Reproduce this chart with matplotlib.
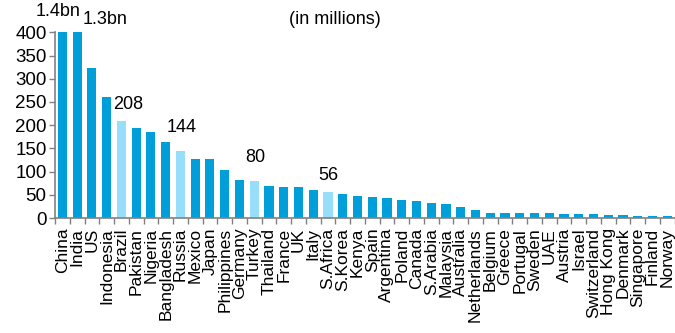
import matplotlib.pyplot as plt
import numpy as np

plt.rcParams['font.family'] = ['Liberation Sans', 'DejaVu Sans']

# Population by country, millions (China and India capped at axis top)
COUNTRIES = ["China", "India", "US", "Indonesia", "Brazil", "Pakistan", "Nigeria",
             "Bangladesh", "Russia", "Mexico", "Japan", "Philippines", "Germany",
             "Turkey", "Thailand", "France", "UK", "Italy", "S.Africa", "S.Korea",
             "Kenya", "Spain", "Argentina", "Poland", "Canada", "S.Arabia",
             "Malaysia", "Australia", "Netherlands", "Belgium", "Greece", "Portugal",
             "Sweden", "UAE", "Austria", "Israel", "Switzerland", "Hong Kong",
             "Denmark", "Singapore", "Finland", "Norway"]
POPULATION = [400, 400, 323, 261, 208, 193, 186, 163, 144, 127, 127, 103, 83, 80,
              69, 67, 66, 60, 56, 51, 48, 46, 44, 38, 36, 33, 31, 24, 17, 11, 11,
              10.5, 10, 10, 9, 8.5, 8.5, 7.5, 6, 5.5, 5, 5.3]
HIGHLIGHT = ["Brazil", "Russia", "Turkey", "S.Africa"]

# Value labels: (text, x position in bar units, y)
LABELS = [("1.4bn", -0.3, 444), ("1.3bn", 2.9, 427), ("208", 4.45, 244),
          ("144", 8.1, 194), ("80", 13.05, 130), ("56", 18.06, 91)]

DARK = "#009FDA"
LIGHT = "#97DEFB"
GREY = "#808080"

colors = [LIGHT if c in HIGHLIGHT else DARK for c in COUNTRIES]
x = np.arange(len(COUNTRIES))

fig = plt.figure(figsize=(6.75, 3.33), dpi=100)
ax = fig.add_axes([0.0815, 0.345, 0.918, 0.558])

ax.bar(x, POPULATION, width=0.62, color=colors)

ax.set_xlim(-0.5, len(COUNTRIES) - 0.5)
ax.set_ylim(0, 400)
ax.set_yticks(range(0, 401, 50))

ax.set_xticks(x)
ax.set_xticklabels(COUNTRIES, rotation=90, fontsize=12.5)
ax.set_xticks(np.arange(-0.5, len(COUNTRIES)), minor=True)
ax.tick_params(axis='x', which='major', length=0, pad=7)
ax.tick_params(axis='x', which='minor', length=4, color=GREY, width=1)
ax.tick_params(axis='y', length=4, color=GREY, width=1, labelsize=13.5, pad=2)

for side in ['top', 'right']:
    ax.spines[side].set_visible(False)
for side in ['left', 'bottom']:
    ax.spines[side].set_color(GREY)
    ax.spines[side].set_linewidth(1.2)

for txt, lx, ly in LABELS:
    ax.text(lx, ly, txt, ha='center', va='center', fontsize=13, clip_on=False)

ax.text(18.5, 427, "(in millions)", ha='center', va='center', fontsize=13,
        clip_on=False)

fig.savefig("out.png", dpi=100)
